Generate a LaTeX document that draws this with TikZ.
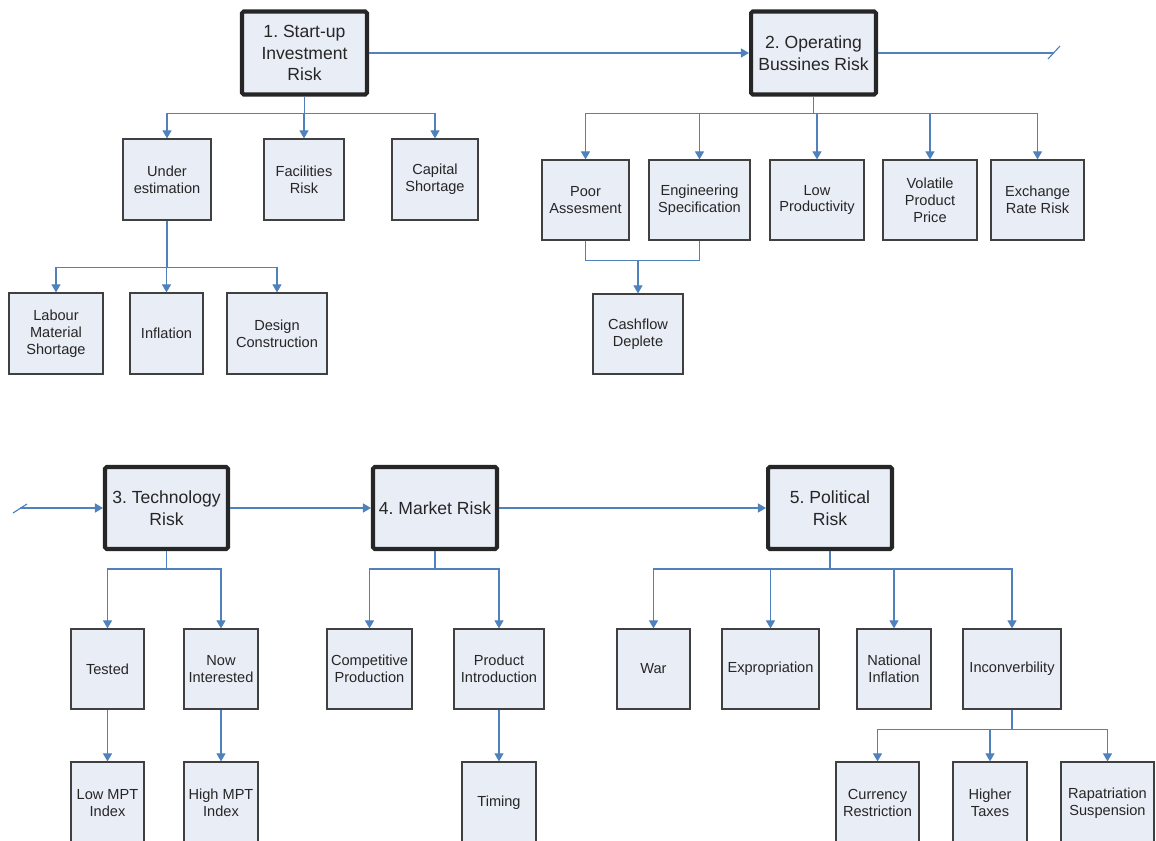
\documentclass[tikz,border=0pt]{standalone}
\usepackage{fontspec}
\setmainfont{Liberation Sans}
\usetikzlibrary{arrows.meta, calc, positioning}
\definecolor{boxfill}{RGB}{233,237,246}
\definecolor{linkblue}{RGB}{79,129,189}
\definecolor{subedge}{RGB}{64,64,64}
\definecolor{mainedge}{RGB}{38,38,38}
\definecolor{txt}{RGB}{38,38,38}
\frenchspacing

\begin{document}
\begin{tikzpicture}[x=0.02cm, y=-0.02cm,
  mainbox/.style={draw=mainedge, line width=2.3pt, rounded corners=1pt,
    fill=boxfill, minimum height=1.66cm, inner sep=1pt, align=center,
    text=txt, font=\fontsize{10}{12.3}\selectfont},
  subbox/.style={draw=subedge, line width=0.7pt, fill=boxfill,
    minimum height=1.6cm, inner sep=1pt, align=center,
    text=txt, font=\fontsize{8.3}{9.6}\selectfont},
  link/.style={draw=linkblue, line width=0.65pt},
  arrow/.style={link, -{Triangle[length=4.6pt,width=5.2pt]}}]

\useasboundingbox (0,0) rectangle (1156,841);
\clip (0,0) rectangle (1156,841);

% ---- Top row: main risks 1 and 2 ----
\node[mainbox, minimum width=2.5cm] (startup) at (304.5,53)
  {1. Start-up\\Investment\\Risk};
\node[mainbox, minimum width=2.5cm] (operating) at (813.5,53)
  {2. Operating\\Bussines Risk};
\coordinate (cutR) at (1054,53);
\draw[arrow] (startup) -- (operating);
\draw[link] (operating) -- (cutR);
\draw[link] (cutR) ++(-6,6) -- ++(12,-13);

% ---- Start-up investment branch ----
\node[subbox, minimum width=1.76cm, minimum height=1.62cm] (underest) at (167,179.5)
  {Under\\estimation};
\node[subbox, minimum width=1.6cm, minimum height=1.62cm] (facilities) at (304,179.5)
  {Facilities\\Risk};
\node[subbox, minimum width=1.72cm, minimum height=1.62cm] (capital) at (435,179.5)
  {Capital\\Shortage};
\foreach \kid in {underest, facilities, capital}
  \draw[arrow] (startup.south) -- ++(0,17) -| (\kid.north);

\node[subbox, minimum width=1.88cm, minimum height=1.62cm] (labour) at (56,333.5)
  {Labour\\Material\\Shortage};
\node[subbox, minimum width=1.46cm, minimum height=1.62cm] (inflation) at (166.5,333.5)
  {Inflation};
\node[subbox, minimum width=2.0cm, minimum height=1.62cm] (design) at (277,333.5)
  {Design\\Construction};
\foreach \kid in {labour, inflation, design}
  \draw[arrow] (underest.south) -- ++(0,47) -| (\kid.north);

% ---- Operating business branch ----
\node[subbox, minimum width=1.74cm] (poor) at (585.5,200)
  {Poor\\Assesment};
\node[subbox, minimum width=2.02cm] (engspec) at (699.5,200)
  {Engineering\\Specification};
\node[subbox, minimum width=1.88cm] (lowprod) at (817,200)
  {Low\\Productivity};
\node[subbox, minimum width=1.88cm] (volatile) at (930,200)
  {Volatile\\Product\\Price};
\node[subbox, minimum width=1.86cm] (exchange) at (1037.5,200)
  {Exchange\\Rate Risk};
\foreach \kid in {poor, engspec, lowprod, volatile, exchange}
  \draw[arrow] (operating.south) -- ++(0,17) -| (\kid.north);

\node[subbox, minimum width=1.8cm] (cashflow) at (638,334)
  {Cashflow\\Deplete};
\draw[link] (poor.south) -- ++(0,20) -| (engspec.south);
\draw[arrow] (poor.south) ++(0,20) -| (cashflow.north);

% ---- Bottom row: main risks 3, 4 and 5 ----
\node[mainbox, minimum width=2.46cm, minimum height=1.64cm] (technology) at (166.5,508)
  {3. Technology\\Risk};
\node[mainbox, minimum width=2.48cm, minimum height=1.64cm] (market) at (435,508)
  {4. Market Risk};
\node[mainbox, minimum width=2.48cm, minimum height=1.64cm] (political) at (830,508)
  {5. Political\\Risk};
\coordinate (cutL) at (20,508);
\draw[link] (cutL) ++(-7,5) -- ++(14,-9);
\draw[arrow] (cutL) -- (technology);
\draw[arrow] (technology) -- (market);
\draw[arrow] (market) -- (political);

% ---- Technology branch ----
\node[subbox, minimum width=1.46cm] (tested) at (107.5,669) {Tested};
\node[subbox, minimum width=1.48cm] (nowint) at (221,669) {Now\\Interested};
\foreach \kid in {tested, nowint}
  \draw[arrow] (technology.south) -- ++(0,18) -| (\kid.north);
\node[subbox, minimum width=1.46cm, minimum height=1.64cm] (lowmpt) at (107.5,803)
  {Low MPT\\Index};
\node[subbox, minimum width=1.48cm, minimum height=1.64cm] (highmpt) at (221,803)
  {High MPT\\Index};
\draw[arrow] (tested) -- (lowmpt);
\draw[arrow] (nowint) -- (highmpt);

% ---- Market branch ----
\node[subbox, minimum width=1.7cm] (competitive) at (369.5,669)
  {Competitive\\Production};
\node[subbox, minimum width=1.8cm] (prodintro) at (499,669)
  {Product\\Introduction};
\foreach \kid in {competitive, prodintro}
  \draw[arrow] (market.south) -- ++(0,18) -| (\kid.north);
\node[subbox, minimum width=1.48cm, minimum height=1.64cm] (timing) at (499,803)
  {Timing};
\draw[arrow] (prodintro) -- (timing);

% ---- Political branch ----
\node[subbox, minimum width=1.46cm] (war) at (653.5,669) {War};
\node[subbox, minimum width=1.94cm] (exprop) at (770.5,669) {Expropriation};
\node[subbox, minimum width=1.48cm] (natinfl) at (894,669) {National\\Inflation};
\node[subbox, minimum width=1.96cm] (inconv) at (1012,669) {Inconverbility};
\foreach \kid in {war, exprop, natinfl, inconv}
  \draw[arrow] (political.south) -- ++(0,18) -| (\kid.north);

\node[subbox, minimum width=1.66cm, minimum height=1.64cm] (currency) at (877.5,803)
  {Currency\\Restriction};
\node[subbox, minimum width=1.48cm, minimum height=1.64cm] (taxes) at (990,803)
  {Higher\\Taxes};
\node[subbox, minimum width=1.86cm, minimum height=1.64cm] (rapat) at (1107.5,803)
  {Rapatriation\\Suspension};
\foreach \kid in {currency, taxes, rapat}
  \draw[arrow] (inconv.south) -- ++(0,20) -| (\kid.north);

\end{tikzpicture}
\end{document}
